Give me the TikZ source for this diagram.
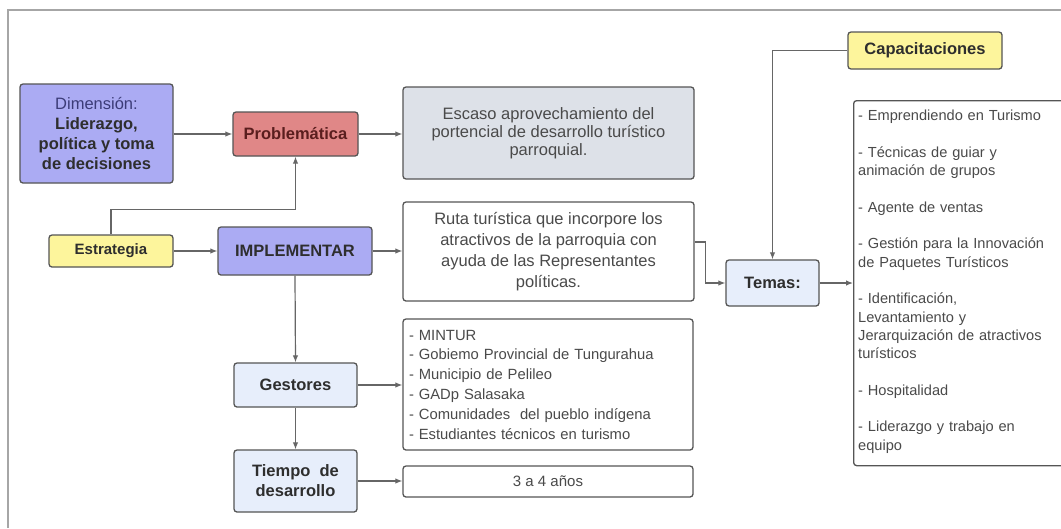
\documentclass[tikz,border=0pt]{standalone}
\usepackage{fontspec}
\setmainfont{Liberation Sans}
\usetikzlibrary{arrows.meta,calc}
\definecolor{lav}{HTML}{ABABF3}
\definecolor{redbox}{HTML}{E08787}
\definecolor{yel}{HTML}{FDF59C}
\definecolor{graybox}{HTML}{DDE1E8}
\definecolor{lblue}{HTML}{E7EEFB}
\definecolor{edge}{HTML}{555555}
\definecolor{wire}{HTML}{666666}
\definecolor{txt}{HTML}{4A4A4A}
\definecolor{btxt}{HTML}{2E2E2E}
\tikzset{
  box/.style={draw=edge, line width=1.3pt, rounded corners=3pt, inner sep=0pt, align=center, text=txt},
  hbox/.style={box, font=\bfseries\fontsize{16.5}{20}\selectfont, text=btxt},
  arr/.style={draw=wire, line width=1.2pt, -{Latex[length=7pt,width=5.5pt]}},
}
\begin{document}
\begin{tikzpicture}[x=1pt,y=-1pt]
\useasboundingbox (0,0) rectangle (1061,528);
\fill[white] (0,0) rectangle (1061,528);
\draw[color=gray!70, line width=2pt] (8,528) -- (8,10) -- (1061,10);
\begin{scope}
\clip (0,0) rectangle (1061,528);
% nodes
\node[hbox, fill=lav, minimum width=153pt, minimum height=99pt] (dim) at (96.5,133.5)
  {{\mdseries\color[HTML]{3C3C78}Dimensión:}\\Liderazgo,\\política y toma\\de decisiones};
\node[hbox, fill=redbox, minimum width=125pt, minimum height=44pt, text={rgb,255:red,90;green,30;blue,30}] (prob) at (295.5,134) {Problemática};
\node[hbox, fill=yel, minimum width=124pt, minimum height=32pt, font=\bfseries\fontsize{15}{18}\selectfont] (estr) at (111,251) {Estrategia};
\node[hbox, fill=lav, minimum width=154pt, minimum height=48pt] (impl) at (295,251) {IMPLEMENTAR};
\node[box, fill=graybox, minimum width=291pt, minimum height=92pt, font=\fontsize{16.5}{18}\selectfont] (escaso) at (548.5,133)
  {Escaso aprovechamiento del\\portencial de desarrollo turístico\\parroquial.};
\node[box, fill=white, minimum width=291pt, minimum height=99pt, font=\fontsize{16.5}{21}\selectfont] (ruta) at (548.5,251.5)
  {Ruta turística que incorpore los\\atractivos de la parroquia con\\ayuda de las Representantes\\políticas.};
\node[hbox, fill=lblue, minimum width=123pt, minimum height=44pt] (gest) at (295.5,385) {Gestores};
\node[hbox, fill=lblue, minimum width=123pt, minimum height=62pt] (tiempo) at (295.5,481) {Tiempo\ \ de\\desarrollo};
\node[box, fill=white, minimum width=290pt, minimum height=131pt, align=left, text width=278pt, inner sep=6pt, font=\fontsize{14.8}{19.8}\selectfont] (mintur) at (548,384.5)
  {- MINTUR\\- Gobiemo Provincial de Tungurahua\\- Municipio de Pelileo\\- GADp Salasaka\\- Comunidades\ \ del pueblo indígena\\- Estudiantes técnicos en turismo};
\node[box, fill=white, minimum width=290pt, minimum height=31pt, font=\fontsize{15}{18}\selectfont] (anos) at (548,481.5) {3 a 4 años};
\node[hbox, fill=yel, minimum width=154pt, minimum height=37pt] (capac) at (925,50.5) {Capacitaciones};
\node[hbox, fill=lblue, minimum width=93pt, minimum height=46pt] (temas) at (772.5,283) {Temas:};
\node[box, fill=white, minimum width=247pt, minimum height=365pt, anchor=north west] (lista) at (853,100) {};
\node[anchor=north west, align=left, text width=200pt, inner sep=0pt, text=txt, font=\fontsize{14.6}{18.3}\selectfont] (listatxt) at (858,110)
  {- Emprendiendo en Turismo\\[18.3pt]- Técnicas de guiar y\\animación de grupos\\[18.3pt]- Agente de ventas\\[18.3pt]- Gestión para la Innovación\\de Paquetes Turísticos\\[18.3pt]- Identificación,\\Levantamiento y\\Jerarquización de atractivos\\turísticos\\[18.3pt]- Hospitalidad\\[18.3pt]- Liderazgo y trabajo en\\equipo};
% connectors
\draw[arr] (dim.east |- prob.west) -- (prob.west);
\draw[arr] (prob.east) -- (escaso.west |- prob.east);
\draw[arr] (estr.north) -- ++(0,-25) -| (prob.south);
\draw[arr] (estr.east) -- (impl.west);
\draw[arr] (impl.east) -- (ruta.west |- impl.east);
\draw[arr] (impl.south) -- (gest.north);
\draw[arr] (gest.south) -- (tiempo.north);
\draw[arr] (gest.east) -- (mintur.west |- gest.east);
\draw[arr] (tiempo.east) -- (anos.west |- tiempo.east);
\draw[arr] ([yshift=9.5pt]ruta.east) -- ++(11,0) |- (temas.west);
\draw[arr] (capac.west) -| (temas.north);
\draw[arr] (temas.east) -- (lista.west |- temas.east);
\end{scope}
\end{tikzpicture}
\end{document}
